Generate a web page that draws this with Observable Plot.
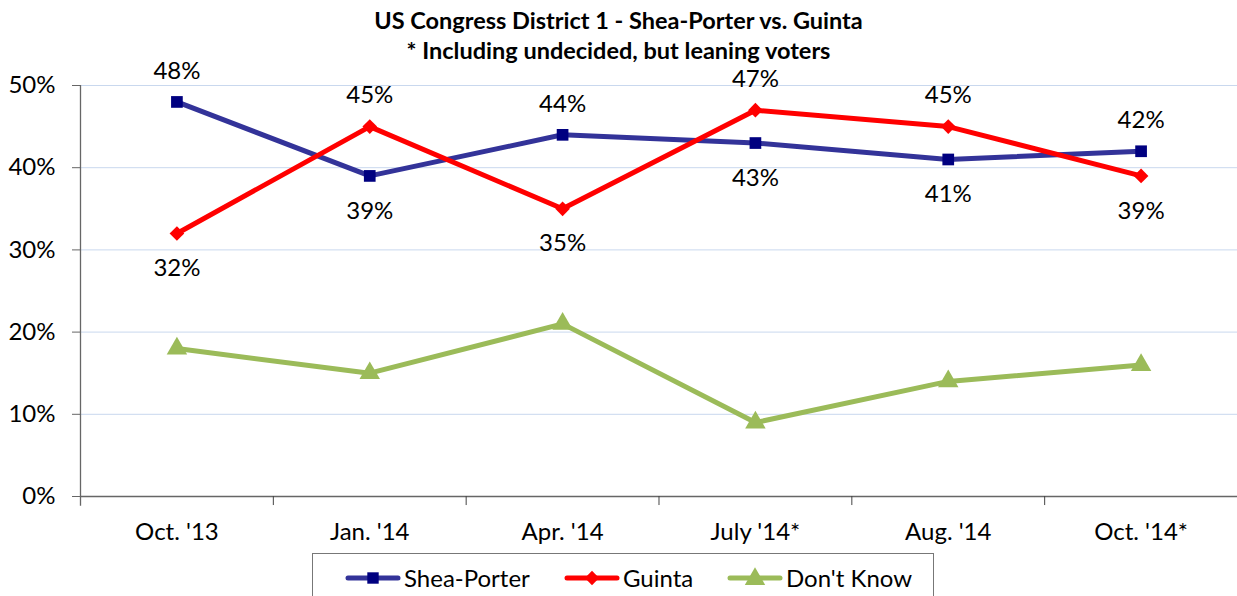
<!DOCTYPE html>
<html>
<head>
<meta charset="utf-8">
<script src="https://cdn.jsdelivr.net/npm/d3@7"></script>
<script src="https://cdn.jsdelivr.net/npm/@observablehq/plot@0.6"></script>
<style>
  body { margin: 0; background: #fff; font-family: Lato, "Open Sans", sans-serif; }
  #wrap { position: relative; width: 1237px; height: 596px; overflow: hidden; }
  #title { position: absolute; top: 5px; left: 0; width: 1237px; text-align: center;
           font-weight: bold; font-size: 23.5px; line-height: 30px; color: #000; z-index: 2; }
  #chart { position: absolute; top: 60px; left: 0; }
  #legend { position: absolute; top: 553px; left: 312px; width: 622px; height: 60px;
            border: 1.5px solid #777; box-sizing: border-box; background: #fff; }
  .item { position: absolute; top: 9px; display: flex; align-items: center; font-size: 24px; color: #000; }
  .item svg { display: block; margin-right: 3px; }
</style>
</head>
<body>
<div id="wrap">
  <div id="title">US Congress District 1 - Shea-Porter vs. Guinta<br>* Including undecided, but leaning voters</div>
  <div id="chart"></div>
  <div id="legend"></div>
</div>
<script>
const categories = ["Oct. '13", "Jan. '14", "Apr. '14", "July '14*", "Aug. '14", "Oct. '14*"];
const sheaPorter = [48, 39, 44, 43, 41, 42];
const guinta = [32, 45, 35, 47, 45, 39];
const dontKnow = [18, 15, 21, 9, 14, 16];
const seriesNames = ["Shea-Porter", "Guinta", "Don't Know"];
const yTicks = [0, 10, 20, 30, 40, 50];

const lineColors = {"Shea-Porter": "#333399", "Guinta": "#ff0000", "Don't Know": "#9bbb59"};
const markColors = {"Shea-Porter": "#000080", "Guinta": "#ff0000", "Don't Know": "#9bbb59"};
const symbols = {"Shea-Porter": "square", "Guinta": "diamond2", "Don't Know": "triangle"};
const radii = {"Shea-Porter": 6.6, "Guinta": 6.6, "Don't Know": 7.6};

const seriesValues = [sheaPorter, guinta, dontKnow];
const rows = [];
seriesNames.forEach((s, si) => {
  seriesValues[si].forEach((v, i) => rows.push({series: s, cat: categories[i], value: v, idx: i}));
});

// label placement: candidate labels above if leading the other candidate, else below
const labelRows = [];
categories.forEach((c, i) => {
  const sp = sheaPorter[i], g = guinta[i];
  labelRows.push({cat: c, value: sp, above: sp > g});
  labelRows.push({cat: c, value: g, above: g > sp});
});

const W = 1237, H = 490;
const marginLeft = 80, marginRight = 0, marginTop = 25, marginBottom = 54;
const step = (W - marginLeft - marginRight) / categories.length;

const marks = [
  Plot.ruleY(yTicks.filter(d => d > 0), {stroke: "#c9d8ee", strokeWidth: 1}),
  Plot.axisY({ticks: yTicks, tickSize: 8, tickPadding: 17, tickFormat: d => d + "%",
              fontSize: 24, stroke: "#666", fill: "#000", anchor: "left"}),
  Plot.ruleX([categories[0]], {dx: -step / 2, y1: -1.2, y2: 50, stroke: "#666", strokeWidth: 1.3}),
  Plot.ruleY([0], {stroke: "#666", strokeWidth: 1.3}),
  Plot.ruleX(categories, {dx: step / 2, y1: 0, y2: -1.1, stroke: "#444", strokeWidth: 1}),
  Plot.axisX({tickSize: 0, tickPadding: 26, fontSize: 24, fill: "#000"}),
];
seriesNames.forEach(s => {
  const d = rows.filter(r => r.series === s);
  marks.push(Plot.line(d, {x: "cat", y: "value", stroke: lineColors[s], strokeWidth: 5, strokeLinejoin: "round", strokeLinecap: "round"}));
});
seriesNames.forEach(s => {
  const d = rows.filter(r => r.series === s);
  marks.push(Plot.dot(d, {x: "cat", y: "value", symbol: () => symbols[s], fill: markColors[s], r: radii[s], stroke: "none"}));
});
marks.push(Plot.text(labelRows.filter(d => d.above), {x: "cat", y: "value", text: d => d.value + "%", dy: -31, fontSize: 24, fill: "#000"}));
marks.push(Plot.text(labelRows.filter(d => !d.above), {x: "cat", y: "value", text: d => d.value + "%", dy: 35, fontSize: 24, fill: "#000"}));

const chart = Plot.plot({
  width: W, height: H,
  marginLeft, marginRight, marginTop, marginBottom,
  style: {fontFamily: "Lato, 'Open Sans', sans-serif", background: "transparent", overflow: "visible"},
  x: {type: "point", domain: categories, padding: 0.5, round: false, label: null},
  y: {domain: [0, 50], label: null},
  symbol: {type: "identity"},
  marks
});
document.getElementById("chart").append(chart);

// legend
const legend = document.getElementById("legend");
const legendX = [32, 251, 414];
const legendW = [56, 56, 56];
seriesNames.forEach((s, i) => {
  const item = document.createElement("div");
  item.className = "item";
  item.style.left = legendX[i] + "px";
  const w = legendW[i];
  const sym = d3.symbol(s === "Shea-Porter" ? d3.symbolSquare : s === "Guinta" ? d3.symbolDiamond2 : d3.symbolTriangle,
                        s === "Don't Know" ? 180 : 130)();
  item.innerHTML = `<svg width="${w}" height="24" viewBox="0 0 ${w} 24">
    <line x1="3" y1="12" x2="${w - 3}" y2="12" stroke="${lineColors[s]}" stroke-width="5" stroke-linecap="round"/>
    <path d="${sym}" transform="translate(${w / 2},${s === "Don't Know" ? 13 : 12})" fill="${markColors[s]}"/>
  </svg><span>${s}</span>`;
  legend.append(item);
});
</script>
</body>
</html>
